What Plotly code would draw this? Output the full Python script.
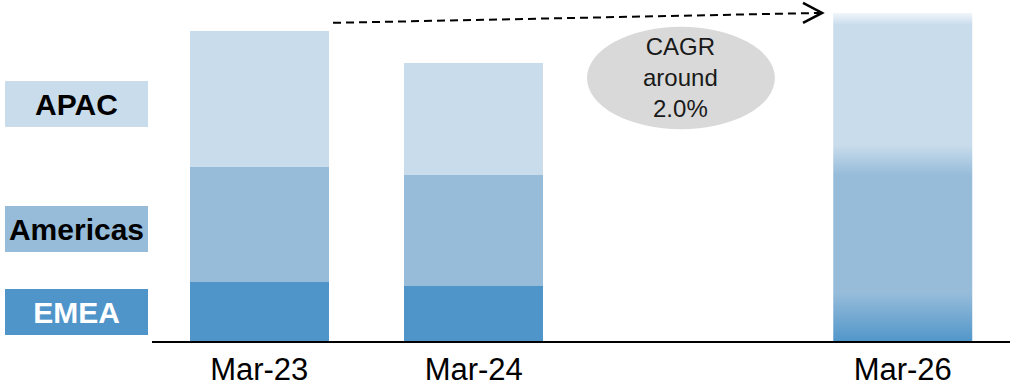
import plotly.graph_objects as go

# ---- data (arbitrary units) ----
periods = ["Mar-23", "Mar-24", "Mar-26"]
emea = [59, 55, 50]
americas = [116, 112, 133]
apac = [137, 113, 147]
regions = ["APAC", "Americas", "EMEA"]
cagr_text = "CAGR<br>around<br>2.0%"

# ---- styles ----
C_EMEA = "#4F95C9"
C_AM = "#96BCDA"
C_APAC = "#C9DCEC"
C_FADE = "#F1F5FA"
FONT = "Arial, Liberation Sans, sans-serif"
BAR_W = 0.648

slots = [int(p[-2:]) - int(periods[0][-2:]) for p in periods]
actual = 2  # first two periods are actual, last is projection

fig = go.Figure()
fig.add_trace(go.Bar(x=slots[:actual], y=emea[:actual], width=BAR_W,
                     marker=dict(color=C_EMEA, line=dict(width=0)), name="EMEA"))
fig.add_trace(go.Bar(x=slots[:actual], y=americas[:actual], width=BAR_W,
                     marker=dict(color=C_AM, line=dict(width=0)), name="Americas"))
fig.add_trace(go.Bar(x=slots[:actual], y=apac[:actual], width=BAR_W,
                     marker=dict(color=C_APAC, line=dict(width=0)), name="APAC"))

# projection bar with blended (gradient) fill
px = slots[-1]
e_top = emea[-1]
a_top = e_top + americas[-1]
total = a_top + apac[-1]
blend = 15
fade = 12
cs = [
    [0.0, C_EMEA],
    [e_top / total, C_AM],
    [(a_top - blend) / total, C_AM],
    [(a_top + blend) / total, C_APAC],
    [(total - fade) / total, C_APAC],
    [1.0, C_FADE],
]
fig.add_trace(go.Scatter(
    x=[px - BAR_W / 2, px + BAR_W / 2, px + BAR_W / 2, px - BAR_W / 2, px - BAR_W / 2],
    y=[0, 0, total, total, 0],
    mode="lines", line=dict(width=0), fill="toself",
    fillgradient=dict(type="vertical", colorscale=cs, start=0, stop=total),
    hoverinfo="skip", showlegend=False,
))

# ---- layout ----
fig.update_layout(
    width=1012, height=387,
    margin=dict(l=152, r=2, t=0, b=44),
    barmode="stack", bargap=0,
    paper_bgcolor="white", plot_bgcolor="white",
    showlegend=False,
    font=dict(family=FONT, color="#000000"),
    xaxis=dict(range=[-0.5, 3.5], tickvals=slots, ticktext=periods,
               tickfont=dict(size=31, color="#000000"), showgrid=False,
               zeroline=False, showline=True, linecolor="#000000", linewidth=2,
               ticks=""),
    yaxis=dict(range=[0, 343], visible=False, showgrid=False, zeroline=False),
)

# legend-like labelled boxes on the left
legend_boxes = [
    ("APAC", C_APAC, "#000000", 238),
    ("Americas", C_AM, "#000000", 112.5),
    ("EMEA", C_EMEA, "#FFFFFF", 29),
]
for name, bg, fc, yc in legend_boxes:
    fig.add_annotation(
        x=(76.5 - 152) / 858, xref="paper", y=yc, yref="y",
        text=f"<b>{name}</b>", showarrow=False,
        width=143, height=46, bgcolor=bg, borderpad=0, borderwidth=0,
        font=dict(size=30, color=fc, family=FONT),
        xanchor="center", yanchor="middle", align="center", valign="middle",
    )

# CAGR ellipse
fig.add_shape(type="circle", xref="x", yref="y",
              x0=1.528, x1=2.404, y0=213, y1=316,
              fillcolor="#D9D9D9", line=dict(width=0), layer="above")
fig.add_annotation(x=1.966, y=265, xref="x", yref="y", text=cagr_text,
                   showarrow=False, font=dict(size=24, color="#1a1a1a", family=FONT),
                   align="center")

# dashed growth arrow
fig.add_shape(type="line", xref="x", yref="y", x0=0.344, y0=320, x1=2.61, y1=330,
              line=dict(color="#000000", width=2, dash="8px,5px"))
fig.add_shape(type="path", xref="x", yref="y",
              path="M 2.535 340 L 2.624 330 L 2.535 320",
              line=dict(color="#000000", width=2.5))

fig.write_html(
    "out.html",
    config={"displayModeBar": False},
    post_script="document.body.style.margin='0px';document.body.style.overflow='hidden';",
)
